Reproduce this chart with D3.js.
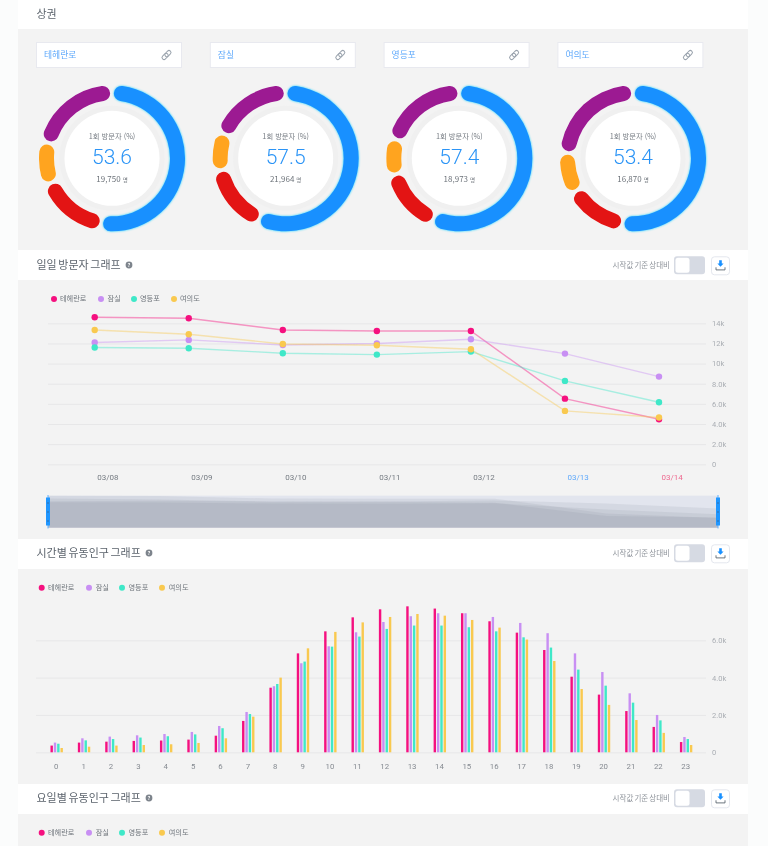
<!DOCTYPE html>
<html lang="ko"><head><meta charset="utf-8">
<script src="https://cdnjs.cloudflare.com/ajax/libs/d3/7.8.5/d3.min.js"></script>
<style>
html,body{margin:0;padding:0;background:#fbfcfc;overflow:hidden}
svg{display:block;font-family:"Noto Sans CJK KR","Noto Sans",sans-serif;filter:blur(.3px)}
.y .domain,.x .domain,.x line{display:none}
.y line{stroke:#e7e7e8;stroke-width:1}
.y text{fill:#a9adb3;font-size:7.5px;font-family:Roboto,sans-serif}
</style></head><body>
<svg id="c" width="768" height="846"></svg>
<script>
const districts=["테헤란로","잠실","영등포","여의도"];
const seriesColors=["#f5107f","#c88ff3","#3fe8c8","#f9c94f"];
const donutColors=["#1890ff","#e31414","#ffa41f","#9c1a92"];
const firstVisitPct=["53.6","57.5","57.4","53.4"];
const visitorCounts=["19,750","21,964","18,973","16,870"];
const sharesTeheran=[52.6,16.3,9.9,21.2];
const sharesJamsil=[56.5,15.6,8.9,19.0];
const sharesYeongdeungpo=[56.4,14.7,8.5,20.4];
const sharesYeouido=[52.5,14.2,9.6,23.7];
const dates=["03/08","03/09","03/10","03/11","03/12","03/13","03/14"];
const dailyTeheran=[14600,14500,13340,13240,13240,6520,4470];
const dailyJamsil=[12090,12350,11850,11990,12420,10990,8710];
const dailyYeongdeungpo=[11590,11520,11030,10890,11190,8280,6160];
const dailyYeouido=[13340,12910,11950,11820,11420,5300,4640];
const dailyTicks=[0,2000,4000,6000,8000,10000,12000,14000];
const hours=d3.range(0,24).map(String);
const hourlyTeheran=[360,520,570,610,630,680,890,1680,3460,5300,6480,7230,7660,7820,7700,7450,7020,6410,5480,4050,3090,2210,1360,550];
const hourlyJamsil=[520,750,840,910,980,1090,1410,2160,3540,4770,5680,6430,6980,7290,7450,7450,7250,6930,6380,5300,4300,3160,2000,820];
const hourlyYeongdeungpo=[460,640,710,790,860,960,1290,2050,3660,4860,5660,6200,6610,6790,6790,6700,6480,6160,5610,4430,3570,2660,1710,710];
const hourlyYeouido=[230,300,360,390,430,500,750,1910,4000,5570,6450,6960,7250,7410,7320,7090,6680,6040,4890,3390,2540,1730,1040,390];
const hourlyTicks=[0,2000,4000,6000];

const svg=d3.select("#c");
const kFmt=v=>v===0?"0":v>=10000?(v/1000)+"k":(v/1000).toFixed(1)+"k";

// panels
[[0,29,"#fff"],[29,221,"#f3f3f3"],[250,30,"#fff"],[280,259,"#f3f3f3"],[539,30,"#fff"],[569,215,"#f3f3f3"],[784,30,"#fff"],[814,32,"#f3f3f3"]]
 .forEach(([y,h,f])=>svg.append("rect").attr("x",18).attr("y",y).attr("width",730).attr("height",h).attr("fill",f));

function title(text,y,iconX){
  svg.append("text").attr("x",36.5).attr("y",y+4).attr("font-size",11).attr("word-spacing",-1.5).attr("fill","#5b636c").text(text);
  if(iconX){
    svg.append("circle").attr("cx",iconX).attr("cy",y).attr("r",3.4).attr("fill","#7d848c");
    svg.append("text").attr("x",iconX).attr("y",y+2).attr("text-anchor","middle").attr("font-size",5.5).attr("font-weight",700).attr("fill","#fff").text("?");
  }
}
function controls(y){
  svg.append("text").attr("x",670).attr("y",y+2.7).attr("text-anchor","end").attr("font-size",7.5).attr("word-spacing",-1).attr("fill","#8f949b").text("시작값 기준 상대비");
  svg.append("rect").attr("x",674).attr("y",y-9).attr("width",31).attr("height",18).attr("rx",3).attr("fill","#d6dae3");
  svg.append("rect").attr("x",675.5).attr("y",y-7.5).attr("width",14).attr("height",15).attr("rx",2.5).attr("fill","#fff");
  svg.append("rect").attr("x",711.5).attr("y",y-8.5).attr("width",18).attr("height",18).attr("rx",3).attr("fill","#fff").attr("stroke","#e4e7ee");
  svg.append("path").attr("d",`M719.2 ${y-5}h2.6v3.2h1.8l-3.1 3.2-3.1-3.2h1.8z`).attr("fill","#1890ff");
  svg.append("path").attr("d",`M716 ${y+2}v2.6h9v-2.6`).attr("fill","none").attr("stroke","#5c6670").attr("stroke-width",.9);
}
function legend(y,dotX,textX){
  districts.forEach((d,i)=>{
    svg.append("circle").attr("cx",dotX[i]).attr("cy",y).attr("r",3).attr("fill",seriesColors[i]);
    svg.append("text").attr("x",textX[i]).attr("y",y+2.4).attr("font-size",7.2).attr("fill","#6f757c").text(d);
  });
}
title("상권",13.5);
title("일일 방문자 그래프",265,129);
title("시간별 유동인구 그래프",553,149);
title("요일별 유동인구 그래프",798,149);
controls(265.3);controls(553.3);controls(798.3);

// donuts
const pie=d3.pie().sort(null).value(d=>d);
const capPad=1.65*Math.PI/180;
const arc=d3.arc().innerRadius(58).outerRadius(73).cornerRadius(7.5);
const cx=d3.scalePoint().domain(districts).range([112,633]);
[sharesTeheran,sharesJamsil,sharesYeongdeungpo,sharesYeouido].forEach((sh,i)=>{
  const name=districts[i],x=cx(name),left=36+i*173.8;
  svg.append("rect").attr("x",left+.5).attr("y",42.5).attr("width",145).attr("height",25).attr("fill","#fff").attr("stroke","#e8e9ef");
  svg.append("text").attr("x",left+8).attr("y",58).attr("font-size",8.8).attr("fill","#5fa9fb").text(name);
  const lk=svg.append("g").attr("transform",`translate(${left+130.5},55) rotate(-45)`).attr("fill","none").attr("stroke","#9aa3ad").attr("stroke-width",1);
  lk.append("rect").attr("x",-5.5).attr("y",-2).attr("width",7).attr("height",4).attr("rx",2);
  lk.append("rect").attr("x",-1.5).attr("y",-2).attr("width",7).attr("height",4).attr("rx",2);
  const g=svg.append("g").attr("transform",`translate(${x},158.3)`);
  g.append("circle").attr("r",52.5).attr("fill","#f0f0f0");
  g.append("circle").attr("r",47.5).attr("fill","#fff");
  pie(sh).forEach((p,j)=>{
    g.append("path").attr("d",arc({startAngle:p.startAngle+capPad,endAngle:p.endAngle-capPad}))
     .attr("fill",donutColors[j]).style("filter",j===0?"drop-shadow(0 0 1.2px #17d4ff)":"drop-shadow(0 0 .6px #fff)");
  });
  g.append("text").attr("y",-19).attr("text-anchor","middle").attr("font-size",7.3).attr("fill","#777d84").text("1회 방문자 (%)");
  g.append("text").attr("y",5.5).attr("text-anchor","middle").attr("font-size",21).attr("font-weight",300).attr("font-family","Roboto,sans-serif").attr("fill","#2b94f6").text(firstVisitPct[i]);
  const t=g.append("text").attr("y",23.3).attr("text-anchor","middle").attr("font-size",8).attr("fill","#6d737a");
  t.append("tspan").text(visitorCounts[i]);
  t.append("tspan").attr("dx",2).attr("font-size",5.5).text("명");
});

// daily lines
legend(299,[54,101,134,174],[60,107.5,140,180]);
const dailySeries=[dailyTeheran,dailyJamsil,dailyYeongdeungpo,dailyYeouido];
const x1=d3.scalePoint().domain(dates).range([94.7,659]);
const y1=d3.scaleLinear().domain([0,14000]).range([464.3,323.3]);
svg.append("g").attr("class","y").attr("transform","translate(706,0)")
  .call(d3.axisRight(y1).tickValues(dailyTicks).tickFormat(kFmt).tickSizeInner(-658).tickSizeOuter(0).tickPadding(6));
const dateAxis=svg.append("g").attr("class","x").attr("transform","translate(12.6,474.5)")
  .call(d3.axisBottom(x1).tickSize(0).tickPadding(0));
dateAxis.selectAll("text").attr("font-size",8).attr("font-family","Roboto,sans-serif")
  .attr("fill",d=>d==="03/13"?"#5fa9fb":d==="03/14"?"#ee6a90":"#757b82");
const line1=d3.line().x((d,i)=>x1(dates[i])).y(d=>y1(d));
dailySeries.forEach((s,i)=>{
  svg.append("path").attr("d",line1(s)).attr("fill","none").attr("stroke",seriesColors[i]).attr("stroke-opacity",.42).attr("stroke-width",1.4);
});
dailySeries.forEach((s,i)=>{
  svg.selectAll(null).data(s).join("circle").attr("cx",(d,j)=>x1(dates[j])).attr("cy",d=>y1(d)).attr("r",3.2).attr("fill",seriesColors[i]);
});

// range slider
const xs=d3.scalePoint().domain(dates).range([48,718]);
const ys=d3.scaleLinear().domain([0,14600]).range([527.7,495.7]);
svg.append("rect").attr("x",48).attr("y",495.7).attr("width",670).attr("height",32).attr("fill","#e2e5ee");
const area=d3.area().x((d,i)=>xs(dates[i])).y0(ys(0)).y1(d=>ys(d));
dailySeries.forEach(s=>svg.append("path").attr("d",area(s)).attr("fill","#78808f").attr("fill-opacity",.13));
[48,718].forEach(x=>{
  svg.append("line").attr("x1",x).attr("x2",x).attr("y1",495).attr("y2",528.5).attr("stroke","#5fb0ff").attr("stroke-width",1);
  svg.append("rect").attr("x",x-2).attr("y",497.5).attr("width",4).attr("height",28).attr("fill","#1f96ff");
  [503,512,521].forEach(y=>svg.append("circle").attr("cx",x).attr("cy",y).attr("r",.7).attr("fill","#3d5f85"));
});

// hourly bars
legend(587.7,[41.7,89,122,162],[48,95.7,128.5,168.7]);
legend(832.7,[41.7,89,122,162],[48,95.7,128.5,168.7]);
const hourlySeries=[hourlyTeheran,hourlyJamsil,hourlyYeongdeungpo,hourlyYeouido];
const x0=d3.scaleBand().domain(hours).range([42.6,699.4]);
const xi=d3.scaleBand().domain(districts).range([-6.2,6.2]).paddingInner(.28).paddingOuter(0);
const y2=d3.scaleLinear().domain([0,6000]).range([752.3,640.3]);
svg.append("g").attr("class","y").attr("transform","translate(706,0)")
  .call(d3.axisRight(y2).tickValues(hourlyTicks).tickFormat(kFmt).tickSizeInner(-670).tickSizeOuter(0).tickPadding(6));
const hourAxis=svg.append("g").attr("class","x").attr("transform","translate(0,763.5)")
  .call(d3.axisBottom(x0).tickSize(0).tickPadding(0));
hourAxis.selectAll("text").attr("font-size",7.8).attr("font-family","Roboto,sans-serif").attr("fill","#858a91");
hourlySeries.forEach((s,i)=>{
  svg.selectAll(null).data(s).join("rect")
    .attr("x",(d,j)=>x0(hours[j])+x0.bandwidth()/2+.4+xi(districts[i]))
    .attr("width",xi.bandwidth())
    .attr("y",d=>y2(d)).attr("height",d=>y2(0)-y2(d))
    .attr("fill",seriesColors[i]);
});
</script></body></html>
